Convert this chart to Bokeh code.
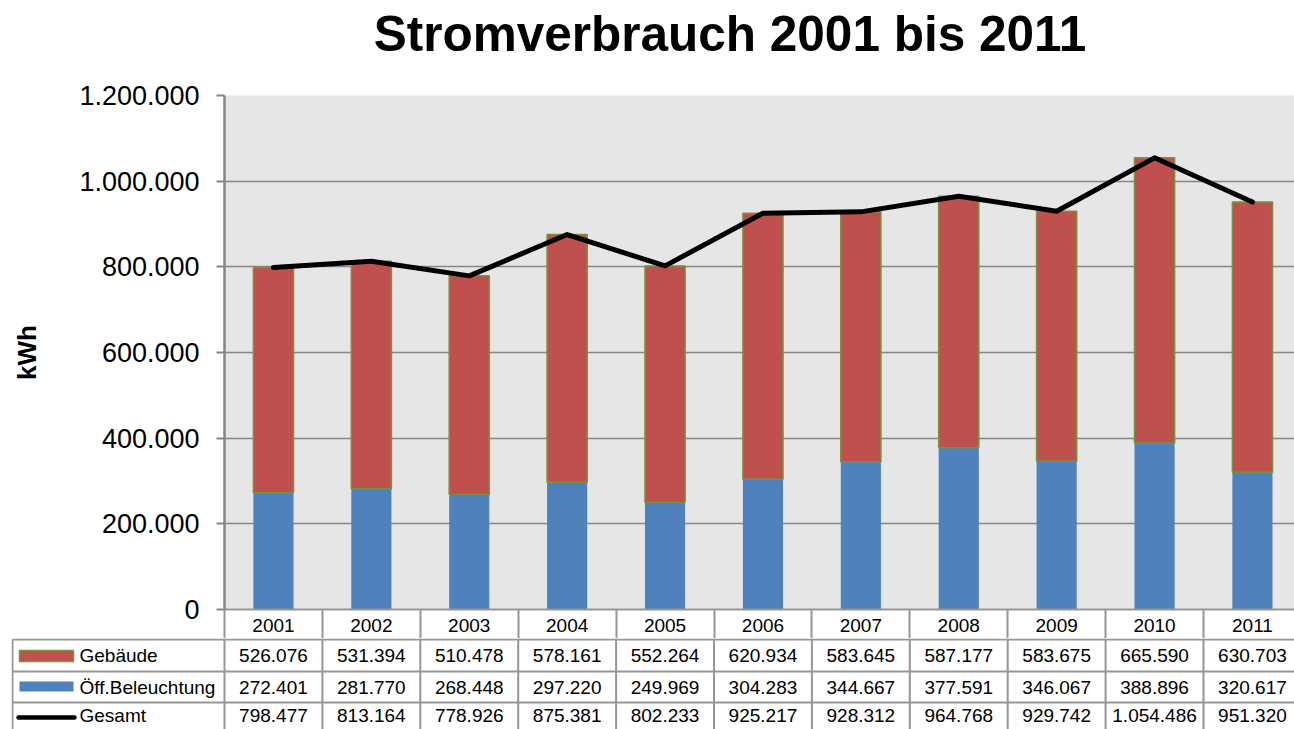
from bokeh.plotting import figure
from bokeh.models import Range1d, FixedTicker, ColumnDataSource
from bokeh.core.properties import value
from bokeh.embed import file_html
from bokeh.resources import INLINE

title_text = "Stromverbrauch 2001 bis 2011"
years = ["2001", "2002", "2003", "2004", "2005", "2006", "2007", "2008", "2009", "2010", "2011"]
gebaeude = [526076, 531394, 510478, 578161, 552264, 620934, 583645, 587177, 583675, 665590, 630703]
beleuchtung = [272401, 281770, 268448, 297220, 249969, 304283, 344667, 377591, 346067, 388896, 320617]
gesamt = [798477, 813164, 778926, 875381, 802233, 925217, 928312, 964768, 929742, 1054486, 951320]
tick_values = [0, 200000, 400000, 600000, 800000, 1000000, 1200000]
tick_labels = ["0", "200.000", "400.000", "600.000", "800.000", "1.000.000", "1.200.000"]
series_names = ["Gebäude", "Öff.Beleuchtung", "Gesamt"]

FONT = "Liberation Sans"
BLUE = "#4F81BD"
RED = "#C0504D"
GREEN = "#77933C"
GRID = "#868686"
TGRID = "#969696"

n = len(years)
idx = list(range(n))
stack_top = [b + g for b, g in zip(beleuchtung, gebaeude)]

# pixel geometry (page pixels)
PX = 97.9            # pixels per category
AXIS_X = 224         # page x of value axis
FIG_W = 1294
HEAD_H = 81

def px_to_x(page_x):
    return (page_x - AXIS_X) / PX - 0.5

x_right = px_to_x(FIG_W)
tfont = value(FONT)

# ---------- title strip ----------
h = figure(width=FIG_W, height=HEAD_H, x_range=Range1d(0, FIG_W),
           y_range=Range1d(HEAD_H, 0), output_backend="svg",
           toolbar_location=None, x_axis_location=None, y_axis_location=None,
           min_border=0)
h.grid.visible = False
h.outline_line_color = None
h.text(x=[729.5], y=[33], text=[title_text], text_font=tfont,
       text_font_style="bold", text_font_size="49.5px", text_align="center",
       text_baseline="middle", text_color="black")

# ---------- chart (with year header row as x axis) ----------
p = figure(width=FIG_W, height=638 - HEAD_H, x_range=Range1d(-0.5, x_right),
           y_range=Range1d(0, 1200000), output_backend="svg",
           toolbar_location=None,
           min_border_left=224, min_border_right=0, min_border_top=95 - HEAD_H,
           min_border_bottom=29)
p.background_fill_color = "#E6E6E6"
p.border_fill_color = "white"
p.outline_line_color = None
p.xgrid.grid_line_color = None
p.ygrid.grid_line_color = GRID
p.ygrid.grid_line_width = 1.5
p.ygrid.ticker = FixedTicker(ticks=tick_values)

ax = p.yaxis[0]
ax.ticker = FixedTicker(ticks=tick_values)
ax.major_label_overrides = {v: l for v, l in zip(tick_values, tick_labels)}
ax.major_label_text_font = FONT
ax.major_label_text_font_size = "27px"
ax.major_label_text_color = "black"
ax.major_tick_out = 8
ax.major_tick_in = 0
ax.minor_tick_out = 0
ax.minor_tick_in = 0
ax.major_tick_line_color = GRID
ax.major_tick_line_width = 2
ax.axis_line_color = GRID
ax.axis_line_width = 2.5
ax.major_label_standoff = 17
ax.axis_label = "kWh"
ax.axis_label_text_font = FONT
ax.axis_label_text_font_style = "bold"
ax.axis_label_text_font_size = "26px"
ax.axis_label_text_color = "black"
ax.axis_label_standoff = 34

xa = p.xaxis[0]
xa.ticker = FixedTicker(ticks=idx, minor_ticks=[i - 0.5 for i in range(n + 1)])
xa.major_label_overrides = {i: y for i, y in zip(idx, years)}
xa.major_label_text_font = FONT
xa.major_label_text_font_size = "19px"
xa.major_label_text_color = "black"
xa.major_tick_out = 0
xa.major_tick_in = 0
xa.minor_tick_out = 29
xa.minor_tick_in = 0
xa.minor_tick_line_color = TGRID
xa.minor_tick_line_width = 2
xa.axis_line_color = TGRID
xa.axis_line_width = 2
xa.major_label_standoff = -20

src = ColumnDataSource(dict(x=idx, bel=beleuchtung, geb=gebaeude, top=stack_top, ges=gesamt))
p.vbar(x="x", width=0.41, bottom=0, top="bel", source=src,
       fill_color=BLUE, line_color=None)
p.vbar(x="x", width=0.41, bottom="bel", top="top", source=src,
       fill_color=RED, line_color=GREEN, line_width=1.5)
p.line(x="x", y="ges", source=src, line_color="black", line_width=5,
       line_join="round", line_cap="round")

# ---------- data table rows ----------
t = figure(width=FIG_W, height=91, x_range=Range1d(px_to_x(11), x_right),
           y_range=Range1d(90, -1), output_backend="svg",
           toolbar_location=None, x_axis_location=None, y_axis_location=None,
           min_border_left=11, min_border_right=0, min_border_top=0,
           min_border_bottom=0)
t.grid.visible = False
t.outline_line_color = None
t.background_fill_color = "white"

left_edge = px_to_x(12)
row_lines = [0, 32, 63]
t.segment(x0=[left_edge] * len(row_lines), y0=row_lines, x1=[n + 1] * len(row_lines),
          y1=row_lines, line_color=TGRID, line_width=2)
vx = [left_edge] + [i - 0.5 for i in range(n + 1)]
t.segment(x0=vx, y0=[0] * len(vx), x1=vx, y1=[130] * len(vx), line_color=TGRID, line_width=2)

def fmt(v):
    return f"{v:,}".replace(",", ".")

row_y = [16, 48, 76]
for vals, yy in zip([gebaeude, beleuchtung, gesamt], row_y):
    t.text(x=idx, y=[yy] * n, text=[fmt(v) for v in vals], text_font=tfont,
           text_font_size="19px", text_align="center", text_baseline="middle",
           text_color="black")

# legend keys
t.quad(left=[px_to_x(19)], right=[px_to_x(73)], top=[11], bottom=[22],
       fill_color=RED, line_color=GREEN, line_width=1.5)
t.quad(left=[px_to_x(19)], right=[px_to_x(73)], top=[42], bottom=[52],
       fill_color=BLUE, line_color=None)
t.line(x=[px_to_x(18), px_to_x(74)], y=[78, 78], line_color="black",
       line_width=4.5, line_cap="round")
t.text(x=[px_to_x(79)] * 3, y=row_y, text=series_names, text_font=tfont,
       text_font_size="19px", text_align="left", text_baseline="middle",
       text_color="black")

open("out.html", "w").write(file_html([h, p, t], INLINE))
